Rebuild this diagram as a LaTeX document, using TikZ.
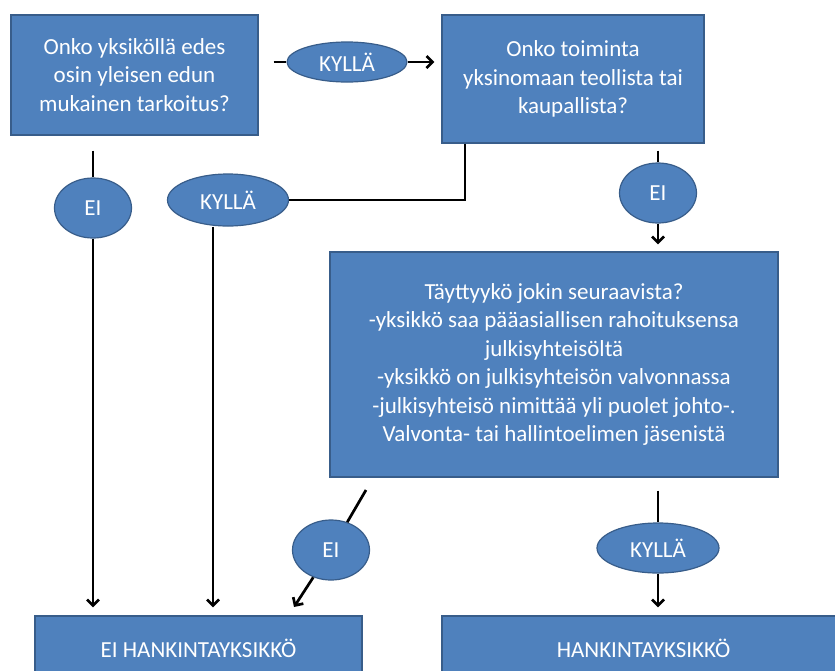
\documentclass[tikz,border=0pt]{standalone}
\usepackage{fontspec}
\setmainfont{Carlito}
\usetikzlibrary{shapes.geometric, arrows.meta}

\definecolor{laatikko}{HTML}{4F81BD}
\definecolor{reuna}{HTML}{385D8A}

\begin{document}
\begin{tikzpicture}[x=1pt, y=-1pt, line width=2.7pt, >={Straight Barb[length=6pt,width=12pt]},
  kysymys/.style={rectangle, draw=reuna, line width=1.2pt, fill=laatikko, text=white,
    align=center, inner sep=0pt, font=\fontsize{23}{28.5}\selectfont},
  vastaus/.style={ellipse, draw=reuna, line width=1.2pt, fill=laatikko, text=white,
    inner sep=0pt, font=\fontsize{23}{26}\selectfont}]

\useasboundingbox (0,0) rectangle (835,670);

% kysymykset
\node[kysymys, minimum width=247pt, minimum height=120pt] (box1) at (134.5,75)
  {Onko yksiköllä edes\\osin yleisen edun\\mukainen tarkoitus?};
\node[kysymys, minimum width=262pt, minimum height=128pt] (box2) at (573,79)
  {Onko toiminta\\yksinomaan teollista tai\\kaupallista?};
\node[kysymys, minimum width=448pt, minimum height=225pt] (box3) at (554,364.5)
  {Täyttyykö jokin seuraavista?\\-yksikkö saa pääasiallisen rahoituksensa\\julkisyhteisöltä\\
   -yksikkö on julkisyhteisön valvonnassa\\-julkisyhteisö nimittää yli puolet johto-.\\
   Valvonta- tai hallintoelimen jäsenistä};

% tulokset
\node[kysymys, minimum width=327pt, minimum height=64pt] (box4) at (198.5,648) {EI HANKINTAYKSIKKÖ};
\node[kysymys, minimum width=403pt, minimum height=64pt] (box5) at (643.5,648) {HANKINTAYKSIKKÖ};

% vastaukset
\node[vastaus, minimum width=120pt, minimum height=40pt] (k1) at (347,62) {KYLLÄ};
\node[vastaus, minimum width=77pt, minimum height=60pt] (e1) at (93,208) {EI};
\node[vastaus, minimum width=121pt, minimum height=52pt] (k2) at (228,200) {KYLLÄ};
\node[vastaus, minimum width=77pt, minimum height=60pt] (e2) at (658,193) {EI};
\node[vastaus, minimum width=77pt, minimum height=60pt] (e3) at (331,550) {EI};
\node[vastaus, minimum width=122pt, minimum height=50pt] (k3) at (658,548) {KYLLÄ};

\coordinate (kulma) at (465,200);
\coordinate (alku) at (366,490);
\coordinate (loppu) at (294,607);

\draw[shorten <=15pt] (box1.east |- k1.west) -- (k1.west);
\draw[->, shorten >=7pt] (k1.east) -- (box2.west |- k1.east);

\draw[shorten <=15pt] (box1.south -| e1) -- (e1.north);
\draw[->, shorten >=8pt] (e1.south) -- (box4.north -| e1);

\draw (box2.south -| kulma) -- (kulma) -- (k2.east);
\draw[->, shorten >=8pt] ([xshift=-15pt]k2.south) -- ([xshift=-15pt]k2.south |- box4.north);

\draw[shorten <=7pt] (box2.south -| e2) -- (e2.north);
\draw[->, shorten >=7pt] (e2.south) -- (box3.north -| e2);

\draw (alku) -- (e3);
\draw[->] (e3) -- (loppu);

\draw[shorten <=13pt] (box3.south -| k3) -- (k3.north);
\draw[->, shorten >=8pt] (k3.south) -- (box5.north -| k3);

\end{tikzpicture}
\end{document}
